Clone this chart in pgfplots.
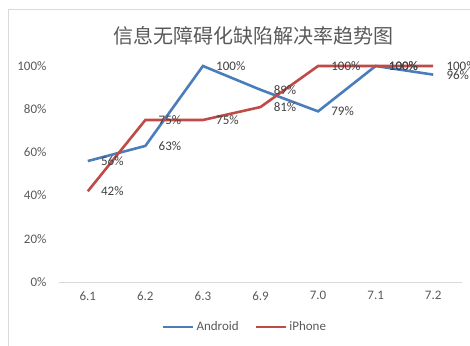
\documentclass[border=0pt]{standalone}
\usepackage{fontspec}
\setmainfont{Carlito}
\newfontfamily\cjk{Noto Sans CJK SC}
\usepackage{pgfplots}
\pgfplotsset{compat=1.18}
\definecolor{andr}{HTML}{4A7EBB}
\definecolor{iph}{HTML}{BE4B48}
\definecolor{txt}{HTML}{595959}
\definecolor{lbl}{HTML}{404040}
\definecolor{frame}{HTML}{D9D9D9}
\begin{document}
\begin{tikzpicture}[x=1pt,y=1pt]
\useasboundingbox (0,0) rectangle (470,345);
\draw[frame] (8,-20) rectangle (490,336);
\node[text=txt, font=\cjk\fontsize{20}{24}\selectfont] at (253,309) {信息无障碍化缺陷解决率趋势图};
\begin{axis}[
  at={(59pt,63pt)}, anchor=south west,
  width=403pt, height=216pt, scale only axis,
  xmin=-0.5, xmax=6.5, ymin=0, ymax=100,
  axis x line*=bottom, axis y line*=left,
  x axis line style={draw=frame, line width=0.8pt},
  y axis line style={draw=none},
  major tick length=0pt,
  xtick={0,...,6},
  xticklabels={6.1,6.2,6.3,6.9,7.0,7.1,7.2},
  ytick={0,20,...,100},
  yticklabel={\pgfmathprintnumber{\tick}\%},
  /pgf/number format/assume math mode=true,
  tick label style={font=\fontsize{13}{15}\selectfont, text=txt},
  yticklabel style={xshift=-9pt},
  xticklabel style={yshift=-6pt},
  clip=false,
  nodes near coords={\pgfmathprintnumber{\pgfplotspointmeta}\%},
  every node near coord/.append style={anchor=west, xshift=12pt, inner sep=0pt,
    font=\fontsize{13}{15}\selectfont, text=lbl},
  legend columns=2,
  legend style={at={(0.4615,-0.208)}, anchor=center, draw=none, fill=none,
    font=\fontsize{13}{15}\selectfont, text=txt,
    /tikz/every even column/.append style={column sep=14pt}},
  legend image code/.code={\draw[#1] (0pt,0pt) -- (30pt,0pt);},
]
\addplot[andr, line width=2.6pt, mark=none] coordinates {
  (0,56) (1,63) (2,100) (3,89) (4,79) (5,100) (6,96)};
\addlegendentry{Android}
\addplot[iph, line width=2.6pt, mark=none] coordinates {
  (0,42) (1,75) (2,75) (3,81) (4,100) (5,100) (6,100)};
\addlegendentry{iPhone}
\end{axis}
\end{tikzpicture}
\end{document}
